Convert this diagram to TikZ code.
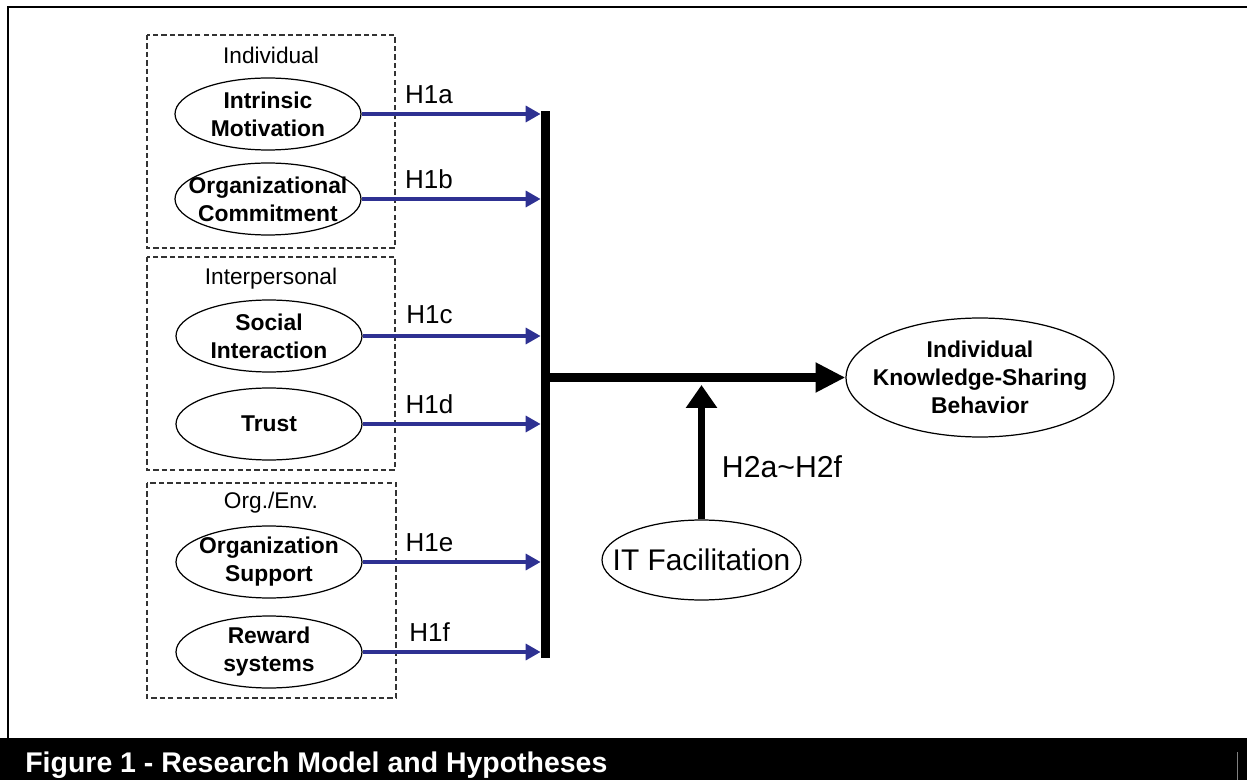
\documentclass[tikz,border=0pt]{standalone}
\usepackage{fontspec}
\setmainfont{Liberation Sans}
\usetikzlibrary{positioning,arrows.meta,shapes.geometric}

\definecolor{hypblue}{RGB}{46,49,146}

\begin{document}
\begin{tikzpicture}[
    x=0.02cm, y=-0.02cm,
    factor/.style={ellipse, draw, line width=0.7pt, inner sep=0pt,
                   minimum width=3.72cm, minimum height=1.44cm},
    inlabel/.style={align=center, inner sep=0pt,
                    font=\fontsize{13}{15.9}\selectfont\bfseries},
    grp/.style={draw=black!80, dash pattern=on 3pt off 1.8pt, line width=0.7pt},
    grptitle/.style={font=\fontsize{12.9}{14}\selectfont},
    hyp/.style={-{Triangle[length=8.5pt, width=9pt]}, draw=hypblue, line width=2.3pt},
    hlbl/.style={font=\fontsize{14.8}{17}\selectfont, inner sep=0pt},
    main/.style={-{Triangle[length=17pt, width=16pt]}, line width=5.5pt},
    modarr/.style={-{Triangle[length=13pt, width=17pt]}, line width=4.5pt},
  ]
    \useasboundingbox (0,0) rectangle (1247,780);

    % frame and caption bar
    \draw[line width=1.7pt, line join=miter] (8,738) -- (8,7) -- (1247,7);
    \fill (0,738) rectangle (1247,780);
    \draw[gray, line width=0.5pt] (1237,752) -- (1237,780);
    \node[anchor=base west, inner sep=0pt, text=white,
          font=\fontsize{16.2}{18}\selectfont\bfseries] (cap) at (25,772)
          {Figure 1 - Research Model and Hypotheses};

    % groups
    \draw[grp] (147,35) rectangle (395,248);
    \draw[grp] (147,257) rectangle (395,470);
    \draw[grp] (147,483) rectangle (396,698);
    \node[grptitle] (indiv) at (271,55) {Individual};
    \node[grptitle] (inter) at (271,279) {Interpersonal};
    \node[grptitle] (orgenv) at (271,503) {Org./Env.};

    % antecedents
    \node[factor, label={[inlabel]center:{Intrinsic\\Motivation}}] (im) at (268,114) {};
    \node[factor, label={[inlabel]center:{Organizational\\Commitment}}] (oc) at (268,199) {};
    \node[factor, label={[inlabel]center:{Social\\Interaction}}] (si) at (269,336) {};
    \node[factor, label={[inlabel]center:{Trust}}] (tr) at (269,424) {};
    \node[factor, label={[inlabel]center:{Organization\\Support}}] (os) at (269,562) {};
    \node[factor, label={[inlabel]center:{Reward\\systems}}] (rs) at (269,652) {};

    % collecting bar
    \node[fill, inner sep=0pt, minimum width=0.18cm, minimum height=10.94cm] (bar) at (545.5,384.5) {};

    % outcome and moderator
    \node[factor, minimum width=5.36cm, minimum height=2.38cm,
          label={[inlabel]center:{Individual\\Knowledge-Sharing\\Behavior}}] (ksb) at (980,377.5) {};
    \node[factor, minimum width=3.98cm, minimum height=1.6cm,
          label={[inner sep=0pt, font=\fontsize{17}{20}\selectfont]center:{IT Facilitation}}] (it) at (701.5,560) {};
    \coordinate (mod) at (701.5,385);

    \draw[hyp] (im) -- (im -| bar.west) node[hlbl, pos=.376, yshift=0.39cm] {H1a};
    \draw[hyp] (oc) -- (oc -| bar.west) node[hlbl, pos=.376, yshift=0.39cm] {H1b};
    \draw[hyp] (si) -- (si -| bar.west) node[hlbl, pos=.376, yshift=0.42cm] {H1c};
    \draw[hyp] (tr) -- (tr -| bar.west) node[hlbl, pos=.376, yshift=0.39cm] {H1d};
    \draw[hyp] (os) -- (os -| bar.west) node[hlbl, pos=.376, yshift=0.39cm] {H1e};
    \draw[hyp] (rs) -- (rs -| bar.west) node[hlbl, pos=.376, yshift=0.39cm] {H1f};

    \draw[main] (ksb.west -| bar) -- (ksb);
    \draw[modarr] (it) -- (mod)
        node[pos=.39, right=0.33cm, inner sep=0pt, font=\fontsize{17.2}{20}\selectfont]
        {H2a\textasciitilde H2f};
\end{tikzpicture}
\end{document}
